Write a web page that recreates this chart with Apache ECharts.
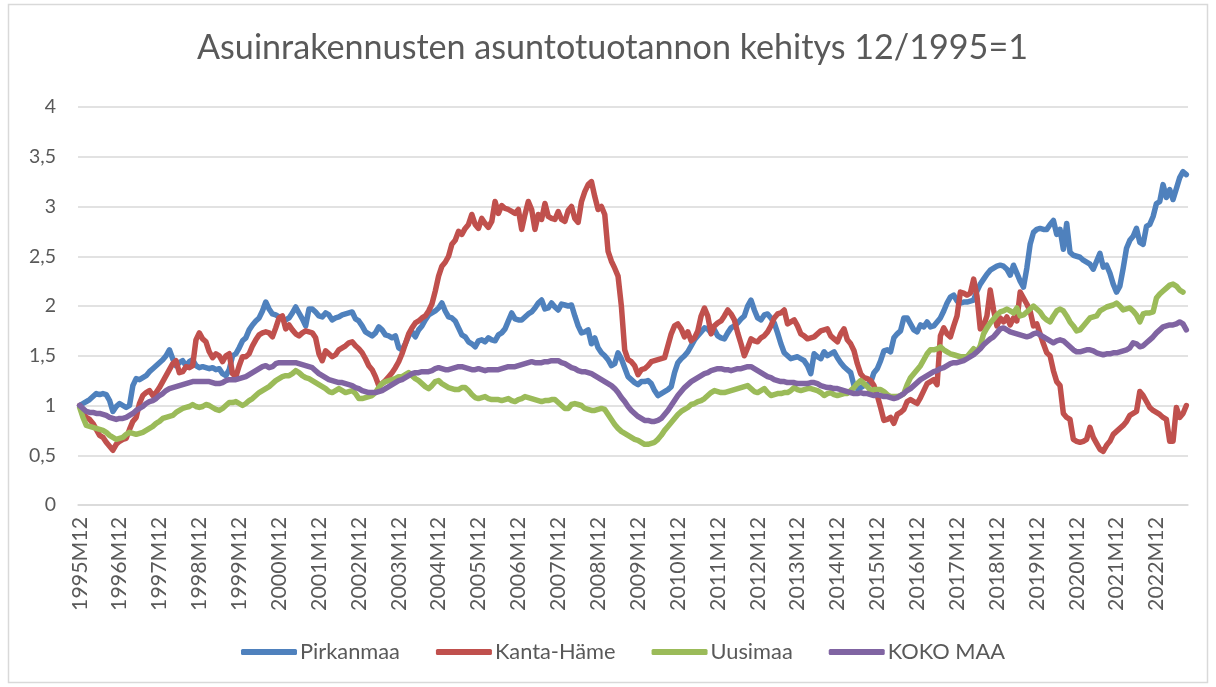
<!DOCTYPE html>
<html>
<head>
<meta charset="utf-8">
<script src="https://cdn.jsdelivr.net/npm/echarts@6/dist/echarts.min.js"></script>
<style>
html,body{margin:0;padding:0;background:#fff;}
#chart{width:1216px;height:687px;}
</style>
</head>
<body>
<div id="chart"></div>
<script>
const TITLE = 'Asuinrakennusten asuntotuotannon kehitys 12/1995=1';
const seriesNames = ['Pirkanmaa', 'Kanta-Häme', 'Uusimaa', 'KOKO MAA'];
const yTicks = [0, 0.5, 1, 1.5, 2, 2.5, 3, 3.5, 4];

// monthly categories 1995M12 ... 2023M09
const categories = [];
for (let i = 0; i < 334; i++) {
  const m = ((11 + i) % 12) + 1;
  const y = 1995 + Math.floor((i + 11) / 12);
  categories.push(y + 'M' + (m < 10 ? '0' + m : m));
}

const pirkanmaa = [1.00,
1.02,1.04,1.06,1.09,1.12,1.11,1.12,1.11,1.05,0.94,0.99,1.02,
1.00,0.98,1.00,1.20,1.27,1.26,1.28,1.30,1.34,1.37,1.40,1.43,
1.46,1.50,1.56,1.47,1.40,1.43,1.45,1.40,1.44,1.46,1.40,1.38,
1.39,1.38,1.37,1.38,1.36,1.37,1.32,1.30,1.36,1.50,1.52,1.58,
1.65,1.68,1.76,1.81,1.85,1.88,1.95,2.04,1.97,1.92,1.91,1.89,
1.87,1.86,1.88,1.93,1.99,1.93,1.87,1.80,1.97,1.97,1.94,1.90,
1.89,1.93,1.91,1.86,1.88,1.89,1.91,1.92,1.93,1.94,1.87,1.85,
1.80,1.74,1.72,1.70,1.73,1.79,1.76,1.71,1.70,1.68,1.70,1.58,
1.56,1.62,1.70,1.74,1.69,1.76,1.80,1.86,1.91,1.93,1.95,1.98,
2.03,1.95,1.89,1.88,1.85,1.78,1.71,1.69,1.64,1.62,1.59,1.65,
1.66,1.64,1.68,1.66,1.65,1.71,1.73,1.77,1.85,1.93,1.87,1.86,
1.86,1.89,1.92,1.94,1.98,2.03,2.06,1.97,1.98,2.03,1.99,1.96,
2.02,2.01,2.00,2.01,1.90,1.80,1.73,1.74,1.76,1.62,1.68,1.58,
1.53,1.50,1.46,1.40,1.42,1.53,1.47,1.38,1.29,1.26,1.23,1.21,
1.24,1.24,1.25,1.22,1.15,1.10,1.12,1.14,1.16,1.19,1.33,1.43,
1.47,1.50,1.54,1.60,1.66,1.70,1.74,1.78,1.77,1.73,1.76,1.70,
1.68,1.67,1.73,1.78,1.80,1.83,1.87,1.90,2.00,2.06,1.96,1.88,
1.86,1.91,1.92,1.88,1.83,1.73,1.62,1.53,1.50,1.47,1.48,1.49,
1.47,1.45,1.40,1.32,1.52,1.49,1.47,1.54,1.50,1.52,1.54,1.48,
1.43,1.39,1.36,1.33,1.20,1.17,1.18,1.20,1.21,1.23,1.33,1.37,
1.45,1.55,1.56,1.54,1.68,1.72,1.75,1.88,1.88,1.82,1.76,1.74,
1.81,1.79,1.84,1.79,1.80,1.84,1.88,1.95,2.03,2.09,2.11,2.05,
2.03,2.04,2.04,2.05,2.06,2.15,2.22,2.27,2.32,2.36,2.38,2.40,
2.41,2.40,2.37,2.31,2.41,2.33,2.25,2.19,2.38,2.62,2.74,2.77,
2.78,2.77,2.77,2.82,2.86,2.72,2.77,2.57,2.83,2.54,2.51,2.50,
2.49,2.46,2.44,2.42,2.37,2.45,2.53,2.39,2.41,2.33,2.22,2.14,
2.20,2.38,2.58,2.66,2.70,2.78,2.64,2.62,2.80,2.82,2.90,3.03,
3.05,3.22,3.09,3.17,3.07,3.18,3.29,3.35,3.32];

const kantaHame = [1.00,
0.93,0.88,0.86,0.82,0.76,0.70,0.68,0.63,0.59,0.55,0.61,0.64,
0.66,0.67,0.76,0.84,0.88,1.02,1.10,1.13,1.15,1.10,1.13,1.18,
1.24,1.30,1.36,1.42,1.45,1.33,1.34,1.39,1.38,1.40,1.66,1.73,
1.67,1.64,1.54,1.48,1.52,1.50,1.44,1.50,1.52,1.32,1.29,1.40,
1.49,1.49,1.52,1.60,1.66,1.71,1.73,1.74,1.73,1.69,1.78,1.88,
1.90,1.77,1.81,1.76,1.72,1.70,1.73,1.75,1.74,1.73,1.68,1.52,
1.45,1.55,1.52,1.49,1.51,1.56,1.58,1.60,1.63,1.64,1.60,1.57,
1.53,1.47,1.40,1.36,1.29,1.20,1.22,1.25,1.29,1.33,1.38,1.44,
1.52,1.62,1.72,1.78,1.83,1.85,1.88,1.90,1.95,2.02,2.15,2.30,
2.40,2.44,2.50,2.62,2.66,2.75,2.72,2.78,2.82,2.92,2.82,2.78,
2.88,2.83,2.79,2.85,3.05,2.93,3.01,2.98,2.97,2.95,2.93,2.97,
2.77,2.92,3.05,2.97,2.77,2.92,2.87,3.03,2.90,2.88,2.87,2.95,
2.87,2.85,2.96,3.00,2.88,2.84,3.05,3.15,3.22,3.25,3.10,2.97,
3.00,2.92,2.55,2.45,2.38,2.30,2.00,1.56,1.46,1.44,1.40,1.31,
1.36,1.37,1.40,1.44,1.45,1.46,1.47,1.48,1.60,1.72,1.80,1.82,
1.77,1.69,1.74,1.65,1.68,1.75,1.90,1.98,1.90,1.72,1.80,1.83,
1.85,1.90,1.96,1.92,1.86,1.73,1.62,1.50,1.58,1.67,1.65,1.64,
1.68,1.70,1.74,1.80,1.88,1.92,1.93,1.96,1.82,1.84,1.86,1.80,
1.72,1.70,1.67,1.68,1.69,1.72,1.75,1.76,1.77,1.70,1.67,1.64,
1.72,1.77,1.66,1.62,1.55,1.42,1.32,1.28,1.27,1.25,1.20,1.10,
0.98,0.85,0.86,0.88,0.82,0.91,0.93,0.96,1.04,1.06,1.04,1.02,
1.08,1.15,1.22,1.24,1.26,1.21,1.70,1.78,1.72,1.69,1.80,1.90,
2.14,2.13,2.11,2.13,2.27,2.10,1.77,1.80,1.90,2.16,1.96,1.80,
1.88,1.84,1.89,1.81,1.88,1.85,2.14,2.08,2.02,1.95,1.80,1.82,
1.72,1.62,1.53,1.50,1.35,1.24,1.20,0.92,0.88,0.86,0.66,0.64,
0.63,0.64,0.66,0.78,0.68,0.62,0.56,0.54,0.60,0.64,0.71,0.74,
0.77,0.80,0.84,0.90,0.92,0.94,1.14,1.10,1.04,0.98,0.95,0.93,
0.91,0.88,0.86,0.64,0.64,0.98,0.88,0.92,1.00];

const uusimaa = [0.98,
0.88,0.80,0.79,0.78,0.77,0.76,0.75,0.73,0.70,0.68,0.66,0.67,
0.68,0.71,0.73,0.72,0.71,0.72,0.73,0.75,0.77,0.79,0.82,0.84,
0.87,0.88,0.89,0.90,0.93,0.95,0.97,0.98,0.99,1.01,0.99,0.98,
0.99,1.01,1.00,0.98,0.96,0.95,0.97,1.00,1.03,1.03,1.04,1.02,
1.00,1.02,1.05,1.07,1.10,1.13,1.15,1.17,1.19,1.22,1.25,1.27,
1.29,1.30,1.30,1.32,1.35,1.33,1.30,1.28,1.27,1.25,1.23,1.21,
1.19,1.17,1.14,1.13,1.15,1.17,1.15,1.13,1.14,1.15,1.12,1.07,
1.07,1.08,1.09,1.10,1.13,1.18,1.22,1.24,1.25,1.26,1.27,1.29,
1.29,1.31,1.33,1.30,1.27,1.25,1.22,1.19,1.17,1.20,1.24,1.25,
1.22,1.20,1.18,1.17,1.16,1.16,1.18,1.18,1.15,1.11,1.08,1.07,
1.08,1.09,1.07,1.06,1.06,1.06,1.05,1.06,1.07,1.05,1.04,1.06,
1.07,1.09,1.08,1.07,1.06,1.05,1.04,1.05,1.05,1.06,1.06,1.03,
1.00,0.97,0.97,1.01,1.02,1.01,1.00,0.97,0.96,0.95,0.95,0.96,
0.97,0.96,0.91,0.86,0.81,0.77,0.74,0.72,0.70,0.68,0.66,0.65,
0.63,0.61,0.61,0.62,0.63,0.66,0.70,0.75,0.79,0.83,0.87,0.91,
0.94,0.96,0.98,1.01,1.02,1.04,1.05,1.07,1.10,1.13,1.15,1.14,
1.13,1.13,1.14,1.15,1.16,1.17,1.18,1.19,1.20,1.17,1.14,1.13,
1.15,1.17,1.13,1.10,1.11,1.12,1.12,1.13,1.13,1.15,1.18,1.16,
1.15,1.16,1.17,1.17,1.16,1.15,1.13,1.10,1.12,1.13,1.11,1.10,
1.11,1.12,1.12,1.15,1.18,1.22,1.25,1.22,1.19,1.15,1.16,1.16,
1.16,1.14,1.11,1.09,1.09,1.09,1.10,1.12,1.21,1.28,1.32,1.36,
1.40,1.46,1.52,1.56,1.56,1.57,1.59,1.56,1.54,1.52,1.51,1.50,
1.49,1.49,1.49,1.53,1.57,1.54,1.60,1.72,1.78,1.83,1.87,1.91,
1.94,1.95,1.97,1.95,1.93,1.98,1.90,1.91,1.94,1.97,2.00,1.97,
1.94,1.89,1.86,1.84,1.90,1.95,1.97,1.95,1.90,1.84,1.80,1.75,
1.76,1.80,1.84,1.88,1.89,1.90,1.95,1.97,1.99,2.00,2.01,2.03,
2.00,1.96,1.97,1.98,1.95,1.91,1.84,1.92,1.93,1.93,1.94,2.08,
2.12,2.15,2.18,2.21,2.22,2.20,2.16,2.14,null];

const kokoMaa = [1.00,
0.97,0.94,0.93,0.93,0.92,0.92,0.91,0.90,0.88,0.87,0.86,0.87,
0.87,0.88,0.90,0.92,0.95,0.97,0.99,1.02,1.04,1.05,1.07,1.10,
1.12,1.15,1.17,1.18,1.19,1.20,1.21,1.22,1.23,1.24,1.24,1.24,
1.24,1.24,1.24,1.23,1.22,1.22,1.23,1.25,1.26,1.26,1.26,1.27,
1.28,1.29,1.31,1.33,1.35,1.37,1.39,1.40,1.38,1.39,1.42,1.43,
1.43,1.43,1.43,1.43,1.43,1.42,1.41,1.40,1.39,1.38,1.35,1.32,
1.30,1.28,1.26,1.25,1.24,1.23,1.23,1.22,1.21,1.20,1.18,1.17,
1.15,1.14,1.13,1.13,1.13,1.14,1.15,1.17,1.19,1.21,1.23,1.25,
1.26,1.28,1.30,1.32,1.33,1.33,1.34,1.34,1.34,1.35,1.37,1.38,
1.37,1.36,1.36,1.37,1.38,1.39,1.39,1.38,1.37,1.36,1.36,1.37,
1.36,1.35,1.36,1.36,1.36,1.36,1.37,1.38,1.39,1.39,1.39,1.40,
1.41,1.42,1.43,1.44,1.43,1.43,1.43,1.44,1.44,1.45,1.45,1.45,
1.43,1.42,1.40,1.38,1.37,1.35,1.34,1.34,1.33,1.32,1.30,1.28,
1.26,1.24,1.22,1.20,1.17,1.13,1.08,1.04,0.99,0.95,0.92,0.89,
0.87,0.85,0.85,0.84,0.84,0.85,0.87,0.91,0.95,1.00,1.05,1.10,
1.14,1.18,1.21,1.24,1.26,1.28,1.30,1.32,1.33,1.35,1.36,1.37,
1.37,1.36,1.36,1.35,1.36,1.37,1.37,1.38,1.39,1.39,1.37,1.35,
1.33,1.31,1.29,1.28,1.26,1.25,1.24,1.24,1.23,1.23,1.23,1.22,
1.22,1.22,1.22,1.23,1.23,1.22,1.20,1.19,1.18,1.18,1.17,1.17,
1.16,1.15,1.14,1.13,1.12,1.12,1.13,1.12,1.12,1.11,1.10,1.11,
1.10,1.09,1.09,1.08,1.07,1.08,1.10,1.12,1.15,1.17,1.20,1.23,
1.26,1.28,1.30,1.32,1.34,1.35,1.37,1.38,1.40,1.42,1.43,1.43,
1.44,1.45,1.47,1.49,1.51,1.54,1.57,1.61,1.64,1.67,1.69,1.73,
1.77,1.78,1.76,1.74,1.73,1.72,1.71,1.70,1.69,1.70,1.72,1.73,
1.71,1.69,1.67,1.65,1.63,1.65,1.66,1.65,1.62,1.59,1.56,1.54,
1.54,1.55,1.56,1.56,1.55,1.53,1.52,1.51,1.52,1.52,1.53,1.53,
1.54,1.55,1.56,1.58,1.63,1.62,1.59,1.60,1.63,1.66,1.69,1.73,
1.76,1.79,1.80,1.81,1.81,1.82,1.84,1.82,1.76];

const colors = ['#4F81BD', '#C0504D', '#9BBB59', '#8064A2'];
const seriesData = [pirkanmaa, kantaHame, uusimaa, kokoMaa];

const FONT = 'Lato, "Open Sans", sans-serif';
const ctx = document.createElement('canvas').getContext('2d');
function fit(text, target, weight) {
  ctx.font = (weight || 'normal') + ' 100px ' + FONT;
  return 100 * target / ctx.measureText(text).width;
}
const titleSize = fit(TITLE, 831);
const xLabSize = fit('1995M12', 94);
const yLabSize = fit('3,5', 27);
const legSize = fit('Pirkanmaa', 100);

const chart = echarts.init(document.getElementById('chart'), null, {renderer: 'canvas'});
chart.setOption({
  backgroundColor: '#ffffff',
  animation: false,
  title: {
    text: TITLE,
    left: 197,
    top: 48 - titleSize * 0.6,
    padding: 0,
    textStyle: {fontFamily: FONT, fontSize: titleSize, lineHeight: titleSize * 1.2, fontWeight: 'normal', color: '#595959'}
  },
  graphic: [{
    type: 'rect', silent: true, z: -10,
    shape: {x: 8.5, y: 4.5, width: 1199, height: 678},
    style: {fill: null, stroke: '#d9d9d9', lineWidth: 1.5}
  }],
  legend: {
    data: seriesNames,
    left: 241,
    top: 654 - legSize * 0.6,
    padding: 0,
    itemGap: 36,
    itemWidth: 56,
    itemHeight: 6,
    icon: 'roundRect',
    textStyle: {fontFamily: FONT, fontSize: legSize, color: '#595959', padding: [0, 0, 0, -2]}
  },
  grid: {left: 78, right: 28, top: 107, bottom: 182, containLabel: false, outerBoundsMode: 'none'},
  xAxis: {
    type: 'category',
    data: categories,
    boundaryGap: true,
    axisTick: {show: false},
    axisLine: {lineStyle: {color: '#d9d9d9', width: 1.5}},
    axisLabel: {interval: 11, rotate: 90, margin: 12, fontFamily: FONT, fontSize: xLabSize, color: '#595959'},
    splitLine: {show: false}
  },
  yAxis: {
    type: 'value',
    min: yTicks[0],
    max: yTicks[yTicks.length - 1],
    interval: 0.5,
    axisLine: {show: false},
    axisTick: {show: false},
    axisLabel: {margin: 22, fontFamily: FONT, fontSize: yLabSize, color: '#595959',
      formatter: v => String(v).replace('.', ',')},
    splitLine: {lineStyle: {color: '#d9d9d9', width: 1.5}}
  },
  series: seriesNames.map((n, k) => ({
    name: n,
    type: 'line',
    data: seriesData[k],
    showSymbol: false,
    symbol: 'none',
    smooth: false,
    connectNulls: false,
    color: colors[k],
    lineStyle: {width: 5.5, color: colors[k], cap: 'round', join: 'round'},
    z: 2 + k
  }))
});
</script>
</body>
</html>
